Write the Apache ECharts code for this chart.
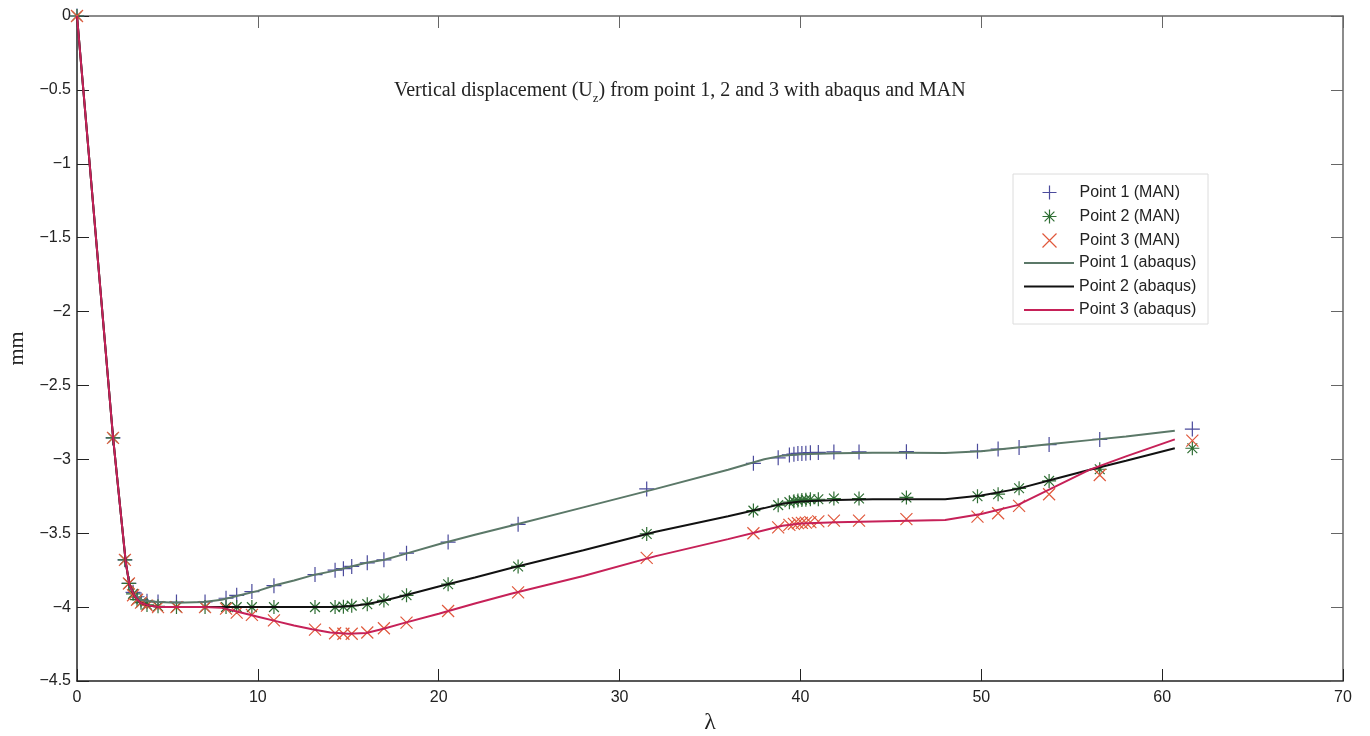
<!DOCTYPE html>
<html>
<head>
    <meta charset="utf-8">
    <title>Vertical displacement</title>
    <script src="https://cdn.jsdelivr.net/npm/echarts@6/dist/echarts.min.js"></script>
    <style>
        html, body { margin: 0; padding: 0; background: #fff; }
        #main { width: 1370px; height: 736px; }
    </style>
</head>
<body>
<div id="main"></div>
<script type="text/javascript">
    // lambda steps of the MAN continuation (markers)
    var lambdaMan = [0, 1.99, 2.65, 2.87, 3.1, 3.32, 3.54, 3.87, 4.48, 5.5, 7.08, 8.24, 8.83, 9.67, 10.89,
        13.16, 14.27, 14.73, 15.19, 16.05, 16.97, 18.22, 20.52, 24.39, 31.5, 37.4, 38.77, 39.39, 39.64,
        39.86, 40.08, 40.30, 40.55, 40.99, 41.85, 43.24, 45.86, 49.79, 50.93, 52.09, 53.75, 56.55, 61.67];
    var p1Man = [0, -2.855, -3.68, -3.84, -3.90, -3.93, -3.95, -3.96, -3.965, -3.966, -3.965, -3.94, -3.92,
        -3.895, -3.855, -3.78, -3.75, -3.74, -3.725, -3.70, -3.68, -3.635, -3.56, -3.44, -3.20, -3.027,
        -2.99, -2.97, -2.965, -2.96, -2.96, -2.958, -2.955, -2.953, -2.95, -2.95, -2.948, -2.945, -2.93,
        -2.92, -2.90, -2.865, -2.795];
    var p2Man = [0, -2.855, -3.68, -3.84, -3.91, -3.95, -3.97, -3.985, -3.995, -4.0, -4.0, -4.0, -4.0,
        -4.0, -4.0, -4.0, -4.0, -3.997, -3.99, -3.98, -3.955, -3.92, -3.845, -3.725, -3.505, -3.347,
        -3.31, -3.29, -3.283, -3.278, -3.275, -3.273, -3.27, -3.27, -3.265, -3.265, -3.258, -3.25,
        -3.236, -3.196, -3.146, -3.067, -2.925];
    var p3Man = [0, -2.855, -3.68, -3.84, -3.92, -3.95, -3.97, -3.99, -4.0, -4.0, -4.0, -4.01, -4.037,
        -4.053, -4.09, -4.152, -4.177, -4.18, -4.18, -4.172, -4.143, -4.105, -4.026, -3.90, -3.667,
        -3.50, -3.46, -3.444, -3.437, -3.432, -3.43, -3.428, -3.425, -3.42, -3.415, -3.415, -3.405,
        -3.388, -3.365, -3.315, -3.236, -3.106, -2.873];

    // abaqus reference curves (lines)
    var lambdaAbq = [0, 2, 2.7, 2.9, 3.2, 3.5, 4, 4.5, 5.5, 7, 8, 9, 10, 11, 12, 13, 14, 15, 16, 17, 18,
        20, 22, 24, 28, 32, 36, 38, 39, 40, 42, 44, 46, 48, 50, 52, 54, 56, 58, 60.7];
    var p1Abq = [0, -2.86, -3.70, -3.85, -3.92, -3.95, -3.96, -3.965, -3.97, -3.965, -3.95, -3.92, -3.89,
        -3.85, -3.82, -3.785, -3.76, -3.73, -3.70, -3.68, -3.645, -3.575, -3.51, -3.45, -3.325, -3.20,
        -3.07, -3.00, -2.975, -2.965, -2.958, -2.955, -2.955, -2.957, -2.945, -2.92, -2.895, -2.87,
        -2.845, -2.806];
    var p2Abq = [0, -2.86, -3.70, -3.85, -3.93, -3.97, -3.99, -4.0, -4.0, -4.0, -4.0, -4.0, -4.0, -4.0,
        -4.0, -4.0, -4.0, -3.995, -3.98, -3.955, -3.925, -3.86, -3.80, -3.735, -3.615, -3.49, -3.385,
        -3.33, -3.30, -3.285, -3.275, -3.27, -3.27, -3.27, -3.245, -3.20, -3.135, -3.07, -3.01, -2.925];
    var p3Abq = [0, -2.86, -3.70, -3.85, -3.93, -3.97, -3.99, -4.0, -4.0, -4.0, -4.005, -4.035, -4.065,
        -4.095, -4.125, -4.15, -4.172, -4.18, -4.175, -4.145, -4.11, -4.045, -3.975, -3.91, -3.79,
        -3.655, -3.54, -3.48, -3.45, -3.435, -3.425, -3.42, -3.415, -3.41, -3.37, -3.31, -3.19, -3.07,
        -2.98, -2.865];

    var manNames = ['Point 1 (MAN)', 'Point 2 (MAN)', 'Point 3 (MAN)'];
    var abqNames = ['Point 1 (abaqus)', 'Point 2 (abaqus)', 'Point 3 (abaqus)'];

    // marker shapes (stroked paths)
    var plusPath = 'path://M5,0L5,10M0,5L10,5';
    var starPath = 'path://M5,0L5,10M0,5L10,5M1.5,1.5L8.5,8.5M1.5,8.5L8.5,1.5';
    var crossPath = 'path://M0,0L10,10M0,10L10,0';

    var manColors = ['#4b4b9c', '#2f6e34', '#e0583c'];
    var abqColors = ['#5b7868', '#111111', '#c62158'];

    function pairs(xs, ys) {
        return xs.map(function (x, i) { return [x, ys[i]]; });
    }

    function manSeries(name, ys, path, color, size) {
        return {
            name: name,
            type: 'scatter',
            data: pairs(lambdaMan, ys),
            symbol: path,
            symbolSize: size,
            symbolKeepAspect: true,
            itemStyle: { color: 'none', borderColor: color, borderWidth: 1.2, opacity: 1 },
            z: 2
        };
    }

    function abqSeries(name, ys, color) {
        return {
            name: name,
            type: 'line',
            data: pairs(lambdaAbq, ys),
            symbol: 'none',
            lineStyle: { color: color, width: 2 },
            itemStyle: { color: color },
            z: 3
        };
    }

    function minusLabel(v) {
        return String(v).replace('-', '\u2212');
    }

    var legendText = { fontFamily: 'Liberation Sans', fontSize: 16, color: '#222' };

    var myChart = echarts.init(document.getElementById('main'));

    var option = {
        backgroundColor: '#ffffff',
        animation: false,
        title: {
            text: 'Vertical displacement (U{sub|z}) from point 1, 2 and 3 with abaqus and MAN',
            left: 389,
            top: 71,
            textStyle: {
                fontFamily: 'Liberation Serif',
                fontSize: 20,
                fontWeight: 'normal',
                color: '#222',
                rich: {
                    sub: { fontFamily: 'Liberation Serif', fontSize: 13, color: '#222', padding: [16, 0, 0, 0] }
                }
            }
        },
        graphic: [{
            type: 'rect',
            shape: { x: 1013, y: 174, width: 195, height: 150 },
            style: { fill: '#fff', stroke: '#dcdcdc', lineWidth: 1 },
            z: 4
        }],
        legend: [
            {
                orient: 'vertical',
                left: 1040,
                top: 183,
                padding: 0,
                itemWidth: 50,
                itemHeight: 14,
                itemGap: 5,
                symbolKeepAspect: true,
                textStyle: legendText,
                z: 5,
                data: [
                    { name: manNames[0], icon: plusPath, itemStyle: { color: 'none', borderColor: manColors[0], borderWidth: 1.2 } },
                    { name: manNames[1], icon: starPath, itemStyle: { color: 'none', borderColor: manColors[1], borderWidth: 1.2 } },
                    { name: manNames[2], icon: crossPath, itemStyle: { color: 'none', borderColor: manColors[2], borderWidth: 1.2 } }
                ]
            },
            {
                orient: 'vertical',
                left: 1023,
                top: 255,
                padding: 0,
                itemWidth: 50,
                itemHeight: 14,
                itemGap: 7.5,
                textStyle: legendText,
                z: 5,
                data: [
                    { name: abqNames[0], itemStyle: { opacity: 0 } },
                    { name: abqNames[1], itemStyle: { opacity: 0 } },
                    { name: abqNames[2], itemStyle: { opacity: 0 } }
                ]
            }
        ],
        grid: { left: 77, right: 27, top: 16, bottom: 55, outerBoundsMode: 'none' },
        xAxis: [
            {
                type: 'value', min: 0, max: 70, interval: 10,
                name: 'λ', nameLocation: 'middle', nameGap: 25,
                nameTextStyle: { fontFamily: 'Liberation Serif', fontSize: 24, color: '#222' },
                axisLine: { onZero: false, lineStyle: { color: '#222', width: 1.5 } },
                axisTick: { inside: true, length: 12, lineStyle: { color: '#222' } },
                axisLabel: { fontFamily: 'Liberation Sans', fontSize: 16, color: '#222', margin: 9 },
                splitLine: { show: false }
            },
            {
                type: 'value', min: 0, max: 70, interval: 10, position: 'top',
                axisLine: { onZero: false, lineStyle: { color: '#666', width: 1.5 } },
                axisTick: { inside: true, length: 12, lineStyle: { color: '#666' } },
                axisLabel: { show: false },
                splitLine: { show: false }
            }
        ],
        yAxis: [
            {
                type: 'value', min: -4.5, max: 0, interval: 0.5,
                name: 'mm', nameLocation: 'middle', nameGap: 44,
                nameTextStyle: { fontFamily: 'Liberation Serif', fontSize: 22, color: '#222' },
                axisLine: { onZero: false, lineStyle: { color: '#222', width: 1.5 } },
                axisTick: { inside: true, length: 12, lineStyle: { color: '#222' } },
                axisLabel: { fontFamily: 'Liberation Sans', fontSize: 16, color: '#222', margin: 6, formatter: minusLabel },
                splitLine: { show: false }
            },
            {
                type: 'value', min: -4.5, max: 0, interval: 0.5, position: 'right',
                axisLine: { show: true, onZero: false, lineStyle: { color: '#666', width: 1.5 } },
                axisTick: { show: true, inside: true, length: 12, lineStyle: { color: '#666' } },
                axisLabel: { show: false },
                splitLine: { show: false }
            }
        ],
        series: [
            manSeries(manNames[0], p1Man, plusPath, manColors[0], 15),
            manSeries(manNames[1], p2Man, starPath, manColors[1], 14),
            manSeries(manNames[2], p3Man, crossPath, manColors[2], 12),
            abqSeries(abqNames[0], p1Abq, abqColors[0]),
            abqSeries(abqNames[1], p2Abq, abqColors[1]),
            abqSeries(abqNames[2], p3Abq, abqColors[2])
        ]
    };

    myChart.setOption(option);
</script>
</body>
</html>
